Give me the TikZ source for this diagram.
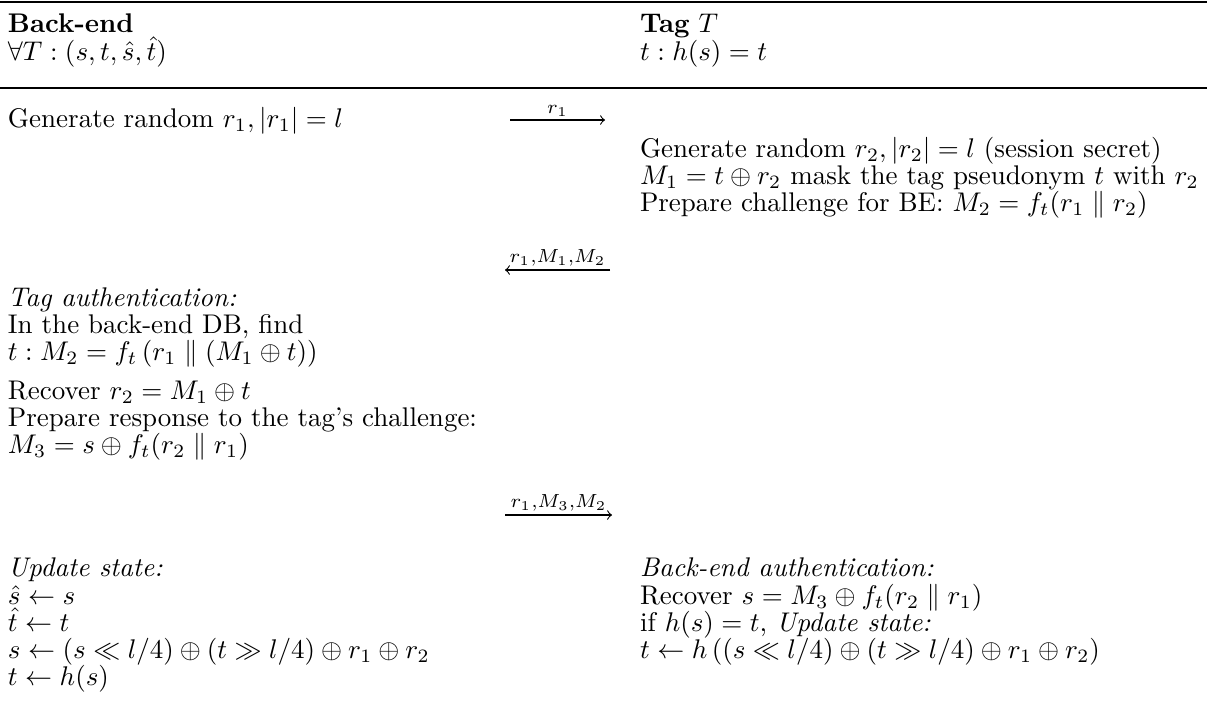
\documentclass[tikz,border=0pt]{standalone}
\usepackage{amsmath,amssymb}
\begin{document}
\begin{tikzpicture}[x=0.3704pt,y=-0.3704pt,
  txt/.style={anchor=base west, inner sep=0pt, outer sep=0pt},
  msg/.style={->, line width=0.4pt},
  lbl/.style={above, inner sep=1.2pt}]
\useasboundingbox (0,0) rectangle (1207,711);
% rules
\coordinate (tl) at (0,2); \coordinate (tr) at (1207,2);
\coordinate (ml) at (0,88); \coordinate (mr) at (1207,88);
\draw[line width=0.8pt] (tl) -- (tr);
\draw[line width=0.5pt] (ml) -- (mr);
% header
\node[txt] (hbe) at (8,32) {\textbf{Back-end}};
\node[txt] (hbe2) at (8,60) {$\forall T : (s, t, \hat{s}, \hat{t})$};
\node[txt] (htag) at (640,32) {\textbf{Tag} $T$};
\node[txt] (htag2) at (640,60) {$t : h(s) = t$};
% step 1
\node[txt] (l1) at (8,127) {Generate random $r_1, |r_1| = l$};
\coordinate (a1s) at (510,120); \coordinate (a1e) at (605,120);
\draw[msg] (a1s) -- node[lbl] (m1) {$\scriptstyle r_1$} (a1e);
% tag computations
\node[txt] (r1) at (640,157) {Generate random $r_2, |r_2| = l$ (session secret)};
\node[txt] (r2) at (640,184) {$M_1 = t \oplus r_2$ mask the tag pseudonym $t$ with $r_2$};
\node[txt] (r3) at (640,211) {Prepare challenge for BE: $M_2 = f_t(r_1 \parallel r_2)$};
% step 2
\coordinate (a2s) at (610,270); \coordinate (a2e) at (505,270);
\draw[msg] (a2s) -- node[lbl] (m2) {$\scriptstyle r_1, M_1, M_2$} (a2e);
% back-end
\node[txt] (l2) at (8,306) {\textit{Tag authentication:}};
\node[txt] (l3) at (8,333) {In the back-end DB, find};
\node[txt] (l4) at (8,360) {$t : M_2 = f_t\left(r_1 \parallel (M_1 \oplus t)\right)$};
\node[txt] (l5) at (8,399) {Recover $r_2 = M_1 \oplus t$};
\node[txt] (l6) at (8,426) {Prepare response to the tag's challenge:};
\node[txt] (l7) at (8,453) {$M_3 = s \oplus f_t(r_2 \parallel r_1)$};
% step 3
\coordinate (a3s) at (505,515); \coordinate (a3e) at (612,515);
\draw[msg] (a3s) -- node[lbl] (m3) {$\scriptstyle r_1, M_3, M_2$} (a3e);
% update
\node[txt] (u1) at (8,576) {\textit{Update state:}};
\node[txt] (u2) at (8,604) {$\hat{s} \leftarrow s$};
\node[txt] (u3) at (8,631) {$\hat{t} \leftarrow t$};
\node[txt] (u4) at (8,658) {$s \leftarrow (s \ll l/4) \oplus (t \gg l/4) \oplus r_1 \oplus r_2$};
\node[txt] (u5) at (8,685) {$t \leftarrow h(s)$};
\node[txt] (b1) at (640,576) {\textit{Back-end authentication:}};
\node[txt] (b2) at (640,604) {Recover $s = M_3 \oplus f_t(r_2 \parallel r_1)$};
\node[txt] (b3) at (640,631) {if $h(s) = t$, \textit{Update state:}};
\node[txt] (b4) at (640,658) {$t \leftarrow h\left((s \ll l/4) \oplus (t \gg l/4) \oplus r_1 \oplus r_2\right)$};
\end{tikzpicture}
\end{document}
